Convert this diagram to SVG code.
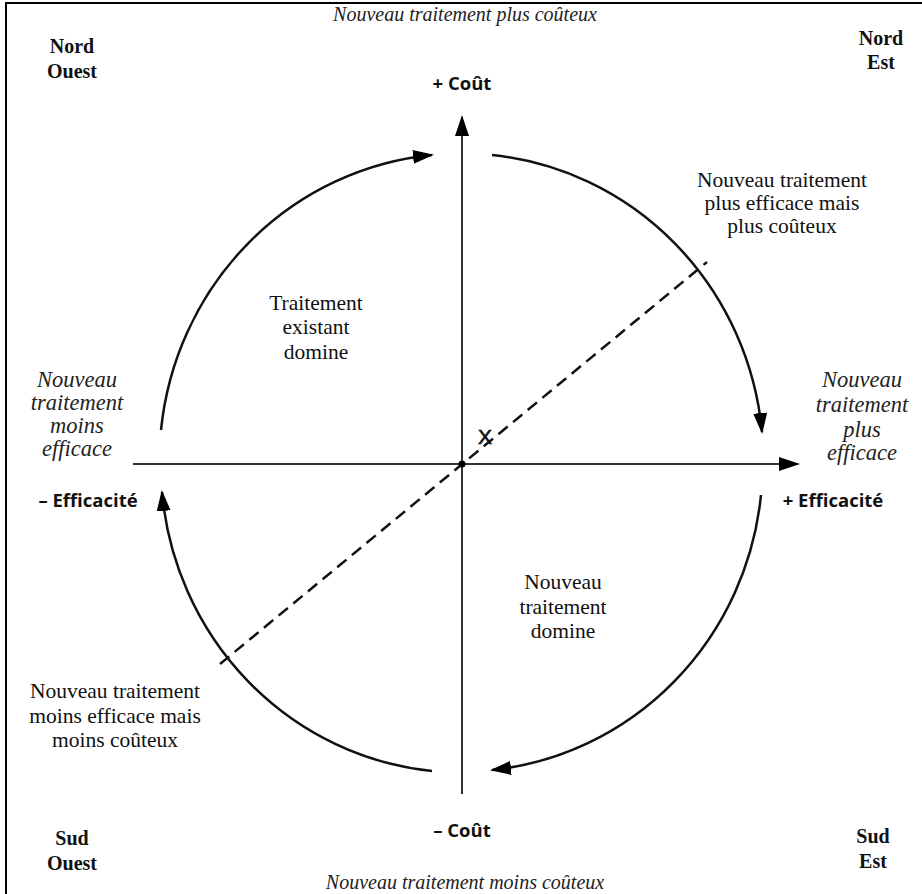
<svg xmlns="http://www.w3.org/2000/svg" width="922" height="894" viewBox="0 0 922 894">
  <style>
    .frame { fill: none; stroke: #000; stroke-width: 2; }
    .axis { fill: none; stroke: #333; stroke-width: 2; }
    .arc { fill: none; stroke: #111; stroke-width: 2.5; }
    .diag { fill: none; stroke: #111; stroke-width: 2.5; stroke-dasharray: 12 7; }
    .corner { font-family: "Liberation Serif", "Times New Roman", serif; font-weight: bold; font-size: 20px; fill: #111; text-anchor: middle; }
    .title { font-family: "Liberation Serif", "Times New Roman", serif; font-style: italic; font-size: 20px; fill: #222; text-anchor: middle; }
    .it { font-family: "Liberation Serif", "Times New Roman", serif; font-style: italic; font-size: 22.5px; fill: #222; text-anchor: middle; }
    .reg { font-family: "Liberation Serif", "Times New Roman", serif; font-size: 21.5px; fill: #111; text-anchor: middle; }
    .axlab { font-family: "Open Sans", "Liberation Sans", Arial, sans-serif; font-weight: bold; font-size: 18.5px; fill: #111; text-anchor: middle; }
  </style>
  <defs>
    <marker id="ah" markerUnits="userSpaceOnUse" markerWidth="22" markerHeight="14" refX="19" refY="7" orient="auto">
      <path d="M0,0 L21,7 L0,14 Z" fill="#000"/>
    </marker>
  </defs>

  <rect width="922" height="894" fill="#fff"/>
  <!-- outer frame (right and bottom edges run off the sheet) -->
  <path class="frame" d="M6,894 V3 H922"/>

  <!-- connectors: axes, circular arrows, diagonal -->
  <g id="connectors">
    <line class="axis" x1="133" y1="464" x2="798" y2="464" marker-end="url(#ah)"/>
    <line class="axis" x1="462" y1="794" x2="462" y2="117" marker-end="url(#ah)"/>
    <path class="arc" d="M161,430 A301.5,308 0 0 1 432,155" marker-end="url(#ah)"/>
    <path class="arc" d="M492,155 A301.5,308 0 0 1 762,432" marker-end="url(#ah)"/>
    <path class="arc" d="M761,495 A301.5,308 0 0 1 492,770" marker-end="url(#ah)"/>
    <path class="arc" d="M432,771 A301.5,308 0 0 1 162,492" marker-end="url(#ah)"/>
    <line class="diag" x1="220" y1="664" x2="707" y2="262"/>
    <circle cx="462" cy="464" r="3.5" fill="#000"/>
  </g>

  <g id="point-x">
    <text x="485" y="444" font-family="Liberation Sans, Arial, sans-serif" font-size="21" fill="#111" stroke="#111" stroke-width="0.6" text-anchor="middle">X</text>
  </g>

  <g id="corner-nw">
    <text class="corner" x="72" y="53">Nord</text>
    <text class="corner" x="72" y="78">Ouest</text>
  </g>
  <g id="corner-ne">
    <text class="corner" x="881" y="45">Nord</text>
    <text class="corner" x="881" y="69">Est</text>
  </g>
  <g id="corner-sw">
    <text class="corner" x="72" y="845">Sud</text>
    <text class="corner" x="72" y="870">Ouest</text>
  </g>
  <g id="corner-se">
    <text class="corner" x="873" y="843">Sud</text>
    <text class="corner" x="873" y="868">Est</text>
  </g>

  <g id="north">
    <text class="title" x="465" y="21">Nouveau traitement plus coûteux</text>
    <text class="axlab" x="462" y="90">+ Coût</text>
  </g>
  <g id="south">
    <text class="axlab" x="462" y="837">– Coût</text>
    <text class="title" x="465" y="889" font-size="20.5">Nouveau traitement moins coûteux</text>
  </g>
  <g id="west">
    <text class="it" x="77" y="387">Nouveau</text>
    <text class="it" x="77" y="410">traitement</text>
    <text class="it" x="77" y="433">moins</text>
    <text class="it" x="77" y="456">efficace</text>
    <text class="axlab" x="88" y="507">– Efficacité</text>
  </g>
  <g id="east">
    <text class="it" x="862" y="387">Nouveau</text>
    <text class="it" x="862" y="412">traitement</text>
    <text class="it" x="862" y="437">plus</text>
    <text class="it" x="862" y="460">efficace</text>
    <text class="axlab" x="833" y="507">+ Efficacité</text>
  </g>

  <g id="quadrant-ne">
    <text class="reg" x="782" y="187">Nouveau traitement</text>
    <text class="reg" x="782" y="210">plus efficace mais</text>
    <text class="reg" x="782" y="233">plus coûteux</text>
  </g>
  <g id="quadrant-nw">
    <text class="reg" x="316" y="310">Traitement</text>
    <text class="reg" x="316" y="334">existant</text>
    <text class="reg" x="316" y="359">domine</text>
  </g>
  <g id="quadrant-se">
    <text class="reg" x="563" y="589">Nouveau</text>
    <text class="reg" x="563" y="614">traitement</text>
    <text class="reg" x="563" y="638">domine</text>
  </g>
  <g id="quadrant-sw">
    <text class="reg" x="115" y="698">Nouveau traitement</text>
    <text class="reg" x="115" y="723">moins efficace mais</text>
    <text class="reg" x="115" y="747">moins coûteux</text>
  </g>
</svg>
